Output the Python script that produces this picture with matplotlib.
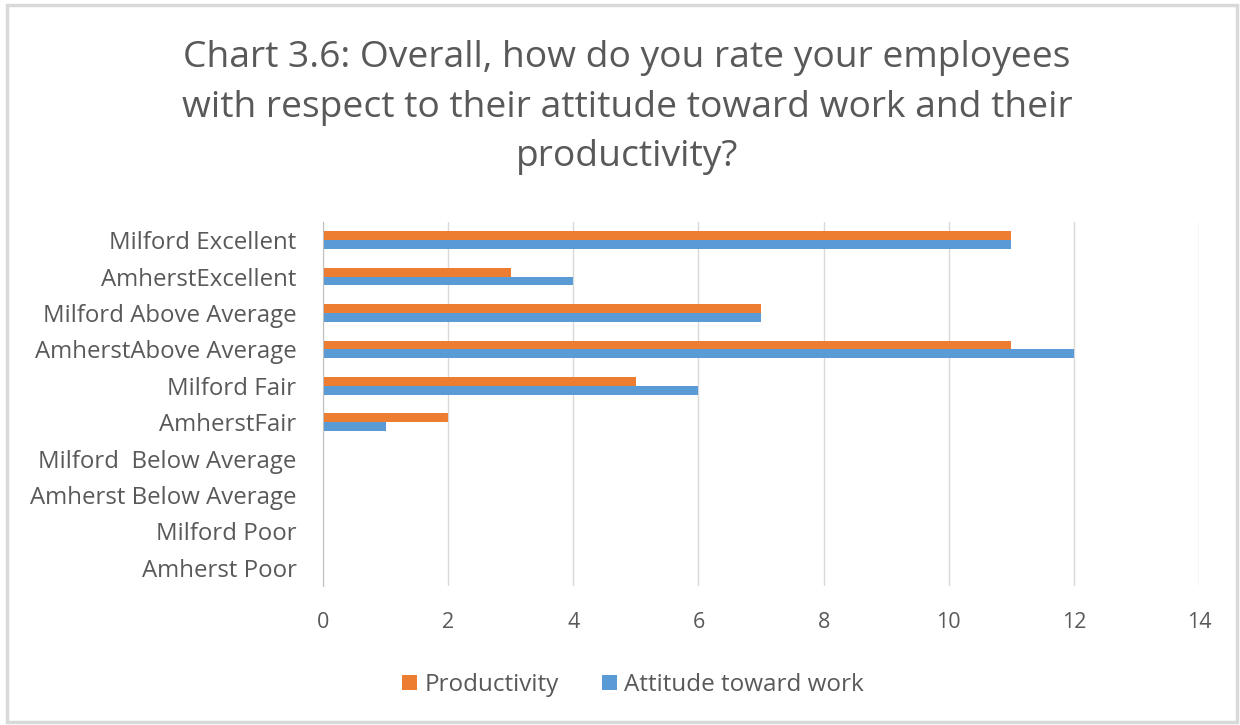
import matplotlib
matplotlib.use("Agg")
import matplotlib.pyplot as plt
from matplotlib.patches import Rectangle, Patch
import numpy as np

categories = ["Milford Excellent", "AmherstExcellent", "Milford Above Average",
              "AmherstAbove Average", "Milford Fair", "AmherstFair",
              "Milford  Below Average", "Amherst Below Average",
              "Milford Poor", "Amherst Poor"]
productivity = [11, 3, 7, 11, 5, 2, 0, 0, 0, 0]
attitude = [11, 4, 7, 12, 6, 1, 0, 0, 0, 0]
series_names = ["Productivity", "Attitude toward work"]
x_ticks = [0, 2, 4, 6, 8, 10, 12, 14]

ORANGE = "#ED7D31"
BLUE = "#5B9BD5"
TXT = "#595959"
FONT = ["Open Sans", "DejaVu Sans"]
plt.rcParams['font.family'] = FONT

fig = plt.figure(figsize=(12.4, 7.25), dpi=100)
fig.patch.set_facecolor("white")
fig.patches.append(Rectangle((7/1240, 3/725), 1230/1240, 717/725, transform=fig.transFigure,
                             fill=False, edgecolor="#d9d9d9", linewidth=2.5))

ax = fig.add_axes([323/1240, 1 - 586/725, (1199-323)/1240, (586-222)/725])
y = np.arange(len(categories))
h = 0.24
ax.barh(y - h/2, productivity, height=h, color=ORANGE, label=series_names[0], zorder=3)
ax.barh(y + h/2, attitude, height=h, color=BLUE, label=series_names[1], zorder=3)
ax.set_ylim(len(categories) - 0.5, -0.5)
ax.set_xlim(0, 14)
ax.set_xticks(x_ticks)
ax.set_xticklabels([str(t) for t in x_ticks])
ax.set_yticks(y)
ax.set_yticklabels(categories)
ax.tick_params(axis="x", length=0, pad=19, labelsize=15.5, labelcolor=TXT)
ax.tick_params(axis="y", length=0, pad=19, labelsize=17.3, labelcolor=TXT)
ax.grid(axis="x", color="#d9d9d9", linewidth=1, zorder=0)
for s in ["top", "right", "bottom"]:
    ax.spines[s].set_visible(False)
ax.spines["left"].set_color("#bfbfbf")
ax.spines["left"].set_zorder(4)

fig.text(627/1240, 1 - 107.5/725,
         "Chart 3.6: Overall, how do you rate your employees\nwith respect to their attitude toward work and their\nproductivity?",
         ha="center", va="center", fontsize=26.8, color=TXT, linespacing=1.5)

handles = [Patch(facecolor=ORANGE), Patch(facecolor=BLUE)]
fig.legend(handles, series_names, loc="center", bbox_to_anchor=(633/1240, 1 - 685/725),
           ncol=2, frameon=False, fontsize=17.5, labelcolor=TXT, handlelength=0.6,
           handleheight=0.6, handletextpad=0.3, columnspacing=1.8)

fig.savefig("out.png", dpi=100, facecolor="white")
